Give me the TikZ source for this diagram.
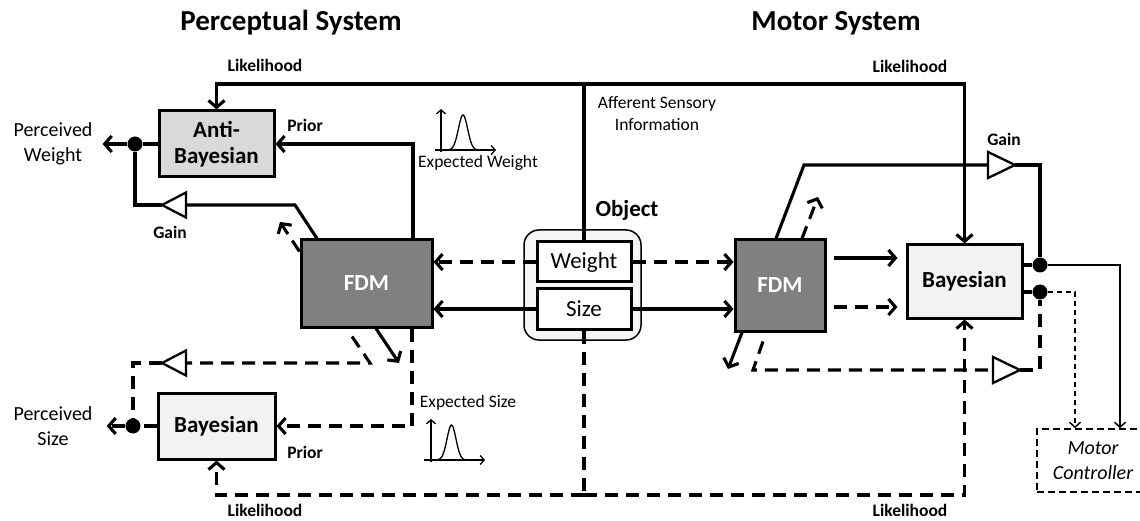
\documentclass[tikz,border=0pt]{standalone}
\usepackage{fontspec}
\setmainfont{Carlito}
\usetikzlibrary{arrows.meta,calc}

\newcommand{\ttlfnt}{\fontsize{29}{33}\selectfont\bfseries}
\newcommand{\boxfnt}{\fontsize{23}{26}\selectfont}
\newcommand{\lblfnt}{\fontsize{17.5}{21}\selectfont\bfseries}
\newcommand{\smlfnt}{\fontsize{17.5}{22}\selectfont}
\newcommand{\outfnt}{\fontsize{20}{25}\selectfont}

\tikzset{
  ln/.style={line width=3.1pt},
  dln/.style={ln, dash pattern=on 13pt off 8pt},
  arr/.style={ln, -{Straight Barb[length=7pt,width=16pt]}},
  darr/.style={dln, -{Straight Barb[length=7pt,width=16pt]}},
  thinarr/.style={line width=1.5pt, -{Straight Barb[length=5pt,width=11pt]}},
  axarr/.style={line width=1.3pt, -{Straight Barb[length=4pt,width=9pt]}},
  blk/.style={draw, line width=3pt, inner sep=0pt, align=center},
  dot/.style={circle, fill, inner sep=0pt, minimum size=15pt},
  lbl/.style={font=\lblfnt, inner sep=0pt},
  ttl/.style={font=\ttlfnt, inner sep=0pt},
}

% gain triangles: name, tip position
\newcommand{\gainleft}[2]{%
  \coordinate (#1-tip) at #2;
  \coordinate (#1-base) at ($(#1-tip)+(24,0)$);
  \draw[line width=2.3pt, fill=white] (#1-tip) -- ($(#1-base)+(0,-12.5)$) -- ($(#1-base)+(0,12.5)$) -- cycle;}
\newcommand{\gainright}[2]{%
  \coordinate (#1-tip) at #2;
  \coordinate (#1-base) at ($(#1-tip)+(-27,0)$);
  \draw[line width=2.3pt, fill=white] (#1-tip) -- ($(#1-base)+(0,-13)$) -- ($(#1-base)+(0,13)$) -- cycle;}

\begin{document}
\begin{tikzpicture}[x=1pt,y=-1pt]
\clip (0,0) rectangle (1140,521);

% titles
\node [ttl] (tperc) at (291,23) {Perceptual System};
\node [ttl] (tmot) at (836,23) {Motor System};

% object
\node [draw, line width=1.5pt, rounded corners=15pt, fill=gray!8, minimum width=117pt, minimum height=110pt] (obj) at (582.5,285) {};
\node [font=\boxfnt\bfseries, inner sep=0pt] (objlbl) at (627,210) {Object};
\node [blk, fill=white, font=\boxfnt, minimum width=94pt, minimum height=40pt] (weight) at (584,262) {Weight};
\node [blk, fill=white, font=\boxfnt, minimum width=94pt, minimum height=40pt] (size) at (584,309) {Size};

% perceptual side
\node [blk, fill=gray!30, font=\boxfnt\bfseries, minimum width=115pt, minimum height=66pt] (antib) at (216.5,144) {Anti-\\Bayesian};
\node [blk, fill=gray!10, font=\boxfnt\bfseries, minimum width=117pt, minimum height=66pt] (bayesL) at (216.5,426) {Bayesian};
\node [blk, fill=gray, text=white, font=\boxfnt\bfseries, minimum width=131pt, minimum height=87pt] (fdmL) at (366.5,283.5) {FDM};

% motor side
\node [blk, fill=gray, text=white, font=\boxfnt\bfseries, minimum width=90pt, minimum height=91pt] (fdmR) at (780,285.5) {FDM};
\node [blk, fill=gray!10, font=\boxfnt\bfseries, minimum width=115pt, minimum height=73pt] (bayesR) at (964.5,281.5) {Bayesian};
\node [draw, line width=1.5pt, dash pattern=on 7pt off 4pt, font=\outfnt\itshape, align=center, minimum width=112pt, minimum height=63pt, inner sep=0pt] (motor) at (1093,460.5) {Motor\\Controller};

% outputs
\node [font=\outfnt, align=center, inner sep=0pt] (pw) at (53,144) {Perceived\\Weight};
\node [font=\outfnt, align=center, inner sep=0pt] (ps) at (53,426) {Perceived\\Size};
\node [dot] (dotW) at (135,144) {};
\node [dot] (dotS) at (133,426) {};
\node [dot] (dotR1) at (1040,265) {};
\node [dot] (dotR2) at (1040,292) {};

% labels
\node [lbl] (likTL) at (265,65) {Likelihood};
\node [lbl] (likTR) at (910,66) {Likelihood};
\node [lbl] (likBL) at (265,510) {Likelihood};
\node [lbl] (likBR) at (910,510) {Likelihood};
\node [lbl] (priW) at (305,125) {Prior};
\node [lbl] (priS) at (305,452) {Prior};
\node [lbl] (gnW) at (170,232) {Gain};
\node [lbl] (gnR) at (1004,139) {Gain};
\node [font=\smlfnt, align=center, inner sep=0pt] (aff) at (657,114) {Afferent Sensory\\Information};
\node [font=\smlfnt, inner sep=0pt] (expW) at (478,163) {Expected Weight};
\node [font=\smlfnt, inner sep=0pt] (expS) at (468,403) {Expected Size};

% expected distributions
\draw [axarr] (435,150) -- (496,150);
\draw [axarr] (441,152) -- (441,109);
\draw [line width=1.3pt] plot[domain=447:479, samples=40] (\x,{150-35*exp(-((\x-463)/6.5)^2)});
\draw [axarr] (424,460) -- (485,460);
\draw [axarr] (431,462) -- (431,419);
\draw [line width=1.3pt] plot[domain=436:467, samples=40] (\x,{460-35*exp(-((\x-451.5)/6.3)^2)});

% afferent likelihood (top)
\coordinate (top) at (584,84);
\draw [ln] (weight.north) -- (top);
\draw [arr] (top) -| (antib.north);
\draw [arr] (top) -| (bayesR.north);

% likelihood (bottom)
\coordinate (bot) at (584,495);
\draw [dln] (size.south) -- (bot);
\draw [darr] (bot) -| (bayesL.south);
\draw [darr] (bot) -| (bayesR.south);

% object to FDMs
\draw [darr] (weight.west) -- (weight.west -| fdmL.east);
\draw [arr] (size.west) -- (size.west -| fdmL.east);
\draw [darr] (weight.east) -- (weight.east -| fdmR.west);
\draw [arr] (size.east) -- (size.east -| fdmR.west);

% perceived weight
\draw [arr] ([xshift=46.5pt]fdmL.north) |- (antib.east);
\gainleft{gW}{(162,205)}
\draw [ln] ([xshift=-49.5pt]fdmL.north) -- (295,205) -- (gW-base);
\draw [ln] (gW-tip) -| (dotW);
\draw [ln] (antib.west) -- (dotW);
\draw [arr, shorten >=10pt] (dotW) -- (pw.east);
\coordinate (upL) at (280,222);
\draw [darr] ([yshift=-13pt]fdmL.north west) -- (upL);

% perceived size
\draw [darr] ([xshift=45.5pt]fdmL.south) |- (bayesL.east);
\coordinate (dnL) at (399,363);
\draw [arr] ([xshift=9.5pt]fdmL.south) -- (dnL);
\gainleft{gS}{(162,363)}
\draw [dln] ([xshift=-14.5pt,yshift=-8pt]fdmL.south) -- (370,363) -- (gS-base);
\draw [dln] (gS-tip) -| (dotS);
\draw [dln] (bayesL.west) -- (dotS);
\draw [darr, shorten >=14pt] (dotS) -- (ps.east);

% motor side
\draw [arr, shorten <=7pt, shorten >=8pt] ([yshift=27.5pt]fdmR.east) -- ([yshift=27.5pt]fdmR.east -| bayesR.west);
\draw [darr, shorten <=7pt, shorten >=8pt] ([yshift=-21.5pt]fdmR.east) -- ([yshift=-21.5pt]fdmR.east -| bayesR.west);
\gainright{gR1}{(1015,165)}
\draw [ln] ([xshift=-4pt]fdmR.north) -- (804,165) -- (gR1-base);
\draw [ln] (gR1-tip) -| (dotR1);
\coordinate (upR) at (818,197);
\draw [darr] ([xshift=22pt]fdmR.north) -- (upR);
\coordinate (dnR) at (728,369);
\draw [arr] ([xshift=-38pt]fdmR.south) -- (dnR);
\gainright{gR2}{(1020,370)}
\draw [dln] ([xshift=-17pt,yshift=-9pt]fdmR.south) -- (753,370) -- (gR2-base);
\draw [dln] (gR2-tip) -| (dotR2);
\draw [ln] ([yshift=16.5pt]bayesR.east) -- (dotR1);
\draw [ln] ([yshift=-10.5pt]bayesR.east) -- (dotR2);
\draw [thinarr] (dotR1) -| ([xshift=27pt]motor.north);
\draw [thinarr, dash pattern=on 5pt off 4pt] (dotR2) -| ([xshift=-18pt]motor.north);
\end{tikzpicture}
\end{document}
